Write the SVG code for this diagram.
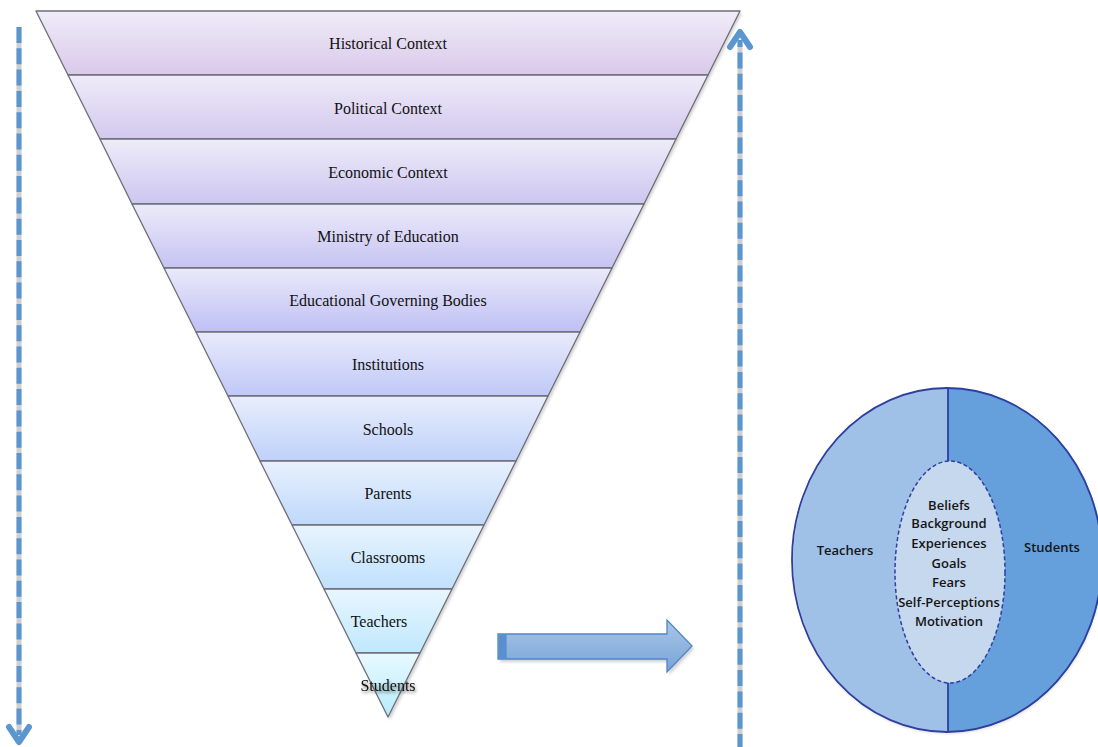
<svg xmlns="http://www.w3.org/2000/svg" width="1098" height="747" viewBox="0 0 1098 747">
  <defs>
    <linearGradient id="g1" x1="0" y1="0" x2="0" y2="1"><stop offset="0" stop-color="#f0ecf8"/><stop offset="1" stop-color="#d9c9ea"/></linearGradient>
    <linearGradient id="g2" x1="0" y1="0" x2="0" y2="1"><stop offset="0" stop-color="#efecf9"/><stop offset="1" stop-color="#d3c8ee"/></linearGradient>
    <linearGradient id="g3" x1="0" y1="0" x2="0" y2="1"><stop offset="0" stop-color="#eeecf9"/><stop offset="1" stop-color="#cdc6f0"/></linearGradient>
    <linearGradient id="g4" x1="0" y1="0" x2="0" y2="1"><stop offset="0" stop-color="#ecebfa"/><stop offset="1" stop-color="#c6c3f2"/></linearGradient>
    <linearGradient id="g5" x1="0" y1="0" x2="0" y2="1"><stop offset="0" stop-color="#eaeafa"/><stop offset="1" stop-color="#bfbff5"/></linearGradient>
    <linearGradient id="g6" x1="0" y1="0" x2="0" y2="1"><stop offset="0" stop-color="#e9ebfb"/><stop offset="1" stop-color="#bfc8f8"/></linearGradient>
    <linearGradient id="g7" x1="0" y1="0" x2="0" y2="1"><stop offset="0" stop-color="#e8eefc"/><stop offset="1" stop-color="#bfd0fa"/></linearGradient>
    <linearGradient id="g8" x1="0" y1="0" x2="0" y2="1"><stop offset="0" stop-color="#e8f1fd"/><stop offset="1" stop-color="#bfd8fb"/></linearGradient>
    <linearGradient id="g9" x1="0" y1="0" x2="0" y2="1"><stop offset="0" stop-color="#e8f4fd"/><stop offset="1" stop-color="#bfe0fc"/></linearGradient>
    <linearGradient id="g10" x1="0" y1="0" x2="0" y2="1"><stop offset="0" stop-color="#e8f6fe"/><stop offset="1" stop-color="#bfe8fd"/></linearGradient>
    <linearGradient id="g11" x1="0" y1="0" x2="0" y2="1"><stop offset="0" stop-color="#e8f9fe"/><stop offset="1" stop-color="#b6ecfc"/></linearGradient>
    <linearGradient id="barrow" x1="0" y1="0" x2="0" y2="1"><stop offset="0" stop-color="#aac6e8"/><stop offset="1" stop-color="#78a4d7"/></linearGradient>
    <filter id="soft" x="-20%" y="-20%" width="140%" height="140%">
      <feGaussianBlur stdDeviation="1.5"/>
    </filter>
    <filter id="txtshadow" x="-20%" y="-50%" width="140%" height="200%">
      <feGaussianBlur in="SourceAlpha" stdDeviation="1.6"/>
      <feOffset dx="1" dy="2" result="b"/>
      <feComponentTransfer><feFuncA type="linear" slope="0.55"/></feComponentTransfer>
      <feMerge><feMergeNode/><feMergeNode in="SourceGraphic"/></feMerge>
    </filter>
  </defs>
  <style>
    .band { stroke: #6e6e78; stroke-width: 1.3; stroke-linejoin: round; }
    .lbl { font-family: "Liberation Serif", "DejaVu Serif", serif; font-size: 16px; fill: #111; text-anchor: middle; }
    .ctxt { font-family: "Open Sans", "Liberation Sans", sans-serif; font-size: 13px; font-weight: 600; fill: #151515; text-anchor: middle; }
    .dash { fill: none; stroke: #5b96cf; stroke-width: 5; stroke-dasharray: 16 5.3; }
    .dashsh { fill: none; stroke: #cfcfcf; stroke-width: 5; }
    .head { fill: none; stroke: #5b96cf; stroke-width: 6; stroke-linecap: round; stroke-linejoin: round; }
  </style>

  <rect width="1098" height="747" fill="#ffffff"/>

  <!-- triangle shadow -->
  <polygon points="38,13 742,13 390,720" fill="#000" opacity="0.18" filter="url(#soft)"/>

  <!-- inverted triangle, one band per layer -->
  <g id="band-historical"><polygon class="band" fill="url(#g1)" points="36,11 740,11 708,75 68,75"/><text class="lbl" x="388" y="49">Historical Context</text></g>
  <g id="band-political"><polygon class="band" fill="url(#g2)" points="68,75 708,75 676,139 100,139"/><text class="lbl" x="388" y="114">Political Context</text></g>
  <g id="band-economic"><polygon class="band" fill="url(#g3)" points="100,139 676,139 644,204 132,204"/><text class="lbl" x="388" y="178">Economic Context</text></g>
  <g id="band-ministry"><polygon class="band" fill="url(#g4)" points="132,204 644,204 612,268 164,268"/><text class="lbl" x="388" y="242">Ministry of Education</text></g>
  <g id="band-governing"><polygon class="band" fill="url(#g5)" points="164,268 612,268 580,332 196,332"/><text class="lbl" x="388" y="306">Educational Governing Bodies</text></g>
  <g id="band-institutions"><polygon class="band" fill="url(#g6)" points="196,332 580,332 548,396 228,396"/><text class="lbl" x="388" y="370">Institutions</text></g>
  <g id="band-schools"><polygon class="band" fill="url(#g7)" points="228,396 548,396 516,461 260,461"/><text class="lbl" x="388" y="435">Schools</text></g>
  <g id="band-parents"><polygon class="band" fill="url(#g8)" points="260,461 516,461 484,525 292,525"/><text class="lbl" x="388" y="499">Parents</text></g>
  <g id="band-classrooms"><polygon class="band" fill="url(#g9)" points="292,525 484,525 452,589 324,589"/><text class="lbl" x="388" y="563">Classrooms</text></g>
  <g id="band-teachers"><polygon class="band" fill="url(#g10)" points="324,589 452,589 420,653 356,653"/><text class="lbl" x="379" y="627">Teachers</text></g>
  <g id="band-students"><polygon class="band" fill="url(#g11)" points="356,653 420,653 388,717"/><text class="lbl" x="388" y="691" filter="url(#txtshadow)">Students</text></g>

  <!-- connectors -->
  <g id="connectors">
    <!-- downward dashed arrow on the left -->
    <line class="dashsh" x1="19" y1="27" x2="19" y2="735"/>
    <line class="dash" x1="19" y1="27" x2="19" y2="735"/>
    <polyline class="head" points="9,727 19,742 29,727"/>
    <!-- upward dashed arrow on the right -->
    <line class="dashsh" x1="740" y1="747" x2="740" y2="40"/>
    <line class="dash" x1="740" y1="747" x2="740" y2="40" stroke-dashoffset="3"/>
    <polyline class="head" points="730,47 740,32 750,47"/>
    <!-- block arrow -->
    <polygon points="500,637 669,637 669,623 694,649 669,675 669,662 500,662" fill="#000" opacity="0.18" filter="url(#soft)"/>
    <polygon points="498,634 667,634 667,620 692,646 667,672 667,659 498,659" fill="url(#barrow)" stroke="#4f86c6" stroke-width="1.3" stroke-linejoin="miter"/>
    <rect x="498.6" y="634.6" width="8" height="23.8" fill="#5a8fcd"/>
  </g>

  <!-- teacher / student circle -->
  <g id="circle-outer">
    <ellipse cx="947" cy="560" rx="155" ry="172" fill="#000" opacity="0.12" filter="url(#soft)" transform="translate(1,2)"/>
    <path d="M948,388 A155,172 0 0,0 948,732 Z" fill="#a0c1e7"/>
    <path d="M948,388 A155,172 0 0,1 948,732 Z" fill="#66a0dc"/>
    <ellipse cx="947" cy="560" rx="155" ry="172" fill="none" stroke="#2e3fa0" stroke-width="1.8"/>
    <line x1="948" y1="388" x2="948" y2="732" stroke="#2e3fa0" stroke-width="1.8"/>
  </g>
  <g id="label-teachers"><text class="ctxt" x="845" y="555">Teachers</text></g>
  <g id="label-students"><text class="ctxt" x="1052" y="552">Students</text></g>
  <g id="circle-inner">
    <ellipse cx="950" cy="572" rx="55" ry="111" fill="#c6d8ee" stroke="#2e3fa0" stroke-width="1.5" stroke-dasharray="4 2.5"/>
    <text class="ctxt" x="949" y="510">Beliefs</text>
    <text class="ctxt" x="949" y="528">Background</text>
    <text class="ctxt" x="949" y="548">Experiences</text>
    <text class="ctxt" x="949" y="568">Goals</text>
    <text class="ctxt" x="949" y="587">Fears</text>
    <text class="ctxt" x="949" y="607">Self-Perceptions</text>
    <text class="ctxt" x="949" y="626">Motivation</text>
  </g>
</svg>
